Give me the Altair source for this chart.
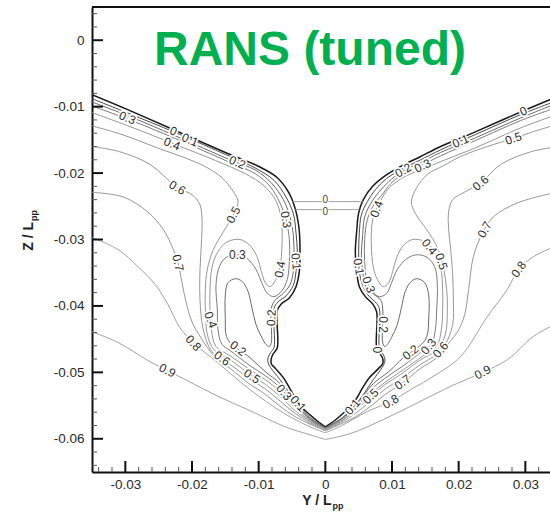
import altair as alt
import pandas as pd

# ---------------- contour lines (Y/Lpp, Z/Lpp) ----------------
u00_left = [(-0.0350,-0.0082),(-0.0293,-0.0106),(-0.0225,-0.0136),(-0.0143,-0.0172),(-0.0102,-0.0189),(-0.0072,-0.0207),(-0.0054,-0.0231),(-0.0044,-0.0258),(-0.0039,-0.0288),(-0.0038,-0.0318),(-0.0039,-0.0348),(-0.0044,-0.0371),(-0.0054,-0.0388),(-0.0066,-0.0397),(-0.0072,-0.0407),(-0.0072,-0.0463),(-0.0078,-0.0472),(-0.0081,-0.0479),(-0.0081,-0.0487),(-0.0075,-0.0494),(-0.0063,-0.0508),(-0.0054,-0.0523),(-0.0045,-0.0539),(-0.0035,-0.0553),(-0.0023,-0.0564),(-0.0011,-0.0574),(0.0,-0.0582)]
u01_left = [(-0.0350,-0.0088),(-0.0293,-0.0111),(-0.0225,-0.0139),(-0.0143,-0.0175),(-0.0104,-0.0193),(-0.0077,-0.0211),(-0.0059,-0.0236),(-0.0048,-0.0261),(-0.0044,-0.0290),(-0.0042,-0.0320),(-0.0044,-0.0348),(-0.0048,-0.0369),(-0.0059,-0.0385),(-0.0071,-0.0394),(-0.0077,-0.0404),(-0.0077,-0.0463),(-0.0082,-0.0470),(-0.0086,-0.0478),(-0.0086,-0.0485),(-0.0082,-0.0493),(-0.0068,-0.0511),(-0.0045,-0.0543),(-0.0023,-0.0568),(0.0,-0.0583)]
u02_left = [(-0.0350,-0.0093),(-0.0293,-0.0115),(-0.0225,-0.0144),(-0.0143,-0.0180),(-0.0104,-0.0196),(-0.0080,-0.0216),(-0.0063,-0.0240),(-0.0053,-0.0266),(-0.0048,-0.0294),(-0.0047,-0.0324),(-0.0048,-0.0348),(-0.0053,-0.0368),(-0.0063,-0.0381),(-0.0075,-0.0391),(-0.0081,-0.0403),(-0.0081,-0.0455),(-0.0084,-0.0461),(-0.0089,-0.0458),(-0.0095,-0.0448),(-0.0104,-0.0428),(-0.0110,-0.0403),(-0.0116,-0.0378),(-0.0125,-0.0363),(-0.0135,-0.0359),(-0.0146,-0.0365),(-0.0150,-0.0383),(-0.0150,-0.0421),(-0.0149,-0.0443),(-0.0143,-0.0455),(-0.0113,-0.0478),(-0.0090,-0.0499),(-0.0068,-0.0517),(-0.0045,-0.0547),(-0.0023,-0.0570),(0.0,-0.0584)]
u03_left = [(-0.0350,-0.0099),(-0.0293,-0.0120),(-0.0225,-0.0148),(-0.0143,-0.0184),(-0.0105,-0.0201),(-0.0083,-0.0220),(-0.0068,-0.0245),(-0.0059,-0.0270),(-0.0054,-0.0300),(-0.0054,-0.0333),(-0.0057,-0.0360),(-0.0065,-0.0377),(-0.0077,-0.0386),(-0.0087,-0.0381),(-0.0095,-0.0366),(-0.0104,-0.0345),(-0.0117,-0.0329),(-0.0132,-0.0323),(-0.0149,-0.0327),(-0.0159,-0.0341),(-0.0164,-0.0368),(-0.0162,-0.0406),(-0.0161,-0.0436),(-0.0155,-0.0458),(-0.0143,-0.0467),(-0.0113,-0.0490),(-0.0090,-0.0505),(-0.0068,-0.0523),(-0.0045,-0.0550),(-0.0023,-0.0571),(0.0,-0.0585)]
u04_left = [(-0.0350,-0.0109),(-0.0293,-0.0130),(-0.0225,-0.0157),(-0.0165,-0.0181),(-0.0120,-0.0201),(-0.0092,-0.0219),(-0.0074,-0.0242),(-0.0066,-0.0270),(-0.0065,-0.0308),(-0.0068,-0.0342),(-0.0074,-0.0360),(-0.0083,-0.0371),(-0.0090,-0.0365),(-0.0096,-0.0348),(-0.0102,-0.0327),(-0.0113,-0.0309),(-0.0128,-0.0300),(-0.0146,-0.0303),(-0.0161,-0.0318),(-0.0170,-0.0342),(-0.0173,-0.0375),(-0.0173,-0.0406),(-0.0171,-0.0436),(-0.0164,-0.0461),(-0.0143,-0.0475),(-0.0113,-0.0496),(-0.0090,-0.0511),(-0.0068,-0.0529),(-0.0045,-0.0554),(-0.0023,-0.0573),(0.0,-0.0585)]
u05_left = [(-0.0350,-0.0129),(-0.0308,-0.0141),(-0.0252,-0.0162),(-0.0203,-0.0180),(-0.0177,-0.0192),(-0.0155,-0.0207),(-0.0140,-0.0225),(-0.0131,-0.0243),(-0.0138,-0.0263),(-0.0152,-0.0287),(-0.0168,-0.0315),(-0.0177,-0.0345),(-0.0180,-0.0375),(-0.0180,-0.0406),(-0.0177,-0.0443),(-0.0167,-0.0466),(-0.0143,-0.0481),(-0.0113,-0.0503),(-0.0090,-0.0518),(-0.0068,-0.0536),(-0.0045,-0.0558),(-0.0023,-0.0574),(0.0,-0.0586)]
u06_left = [(-0.0350,-0.0160),(-0.0308,-0.0168),(-0.0263,-0.0187),(-0.0224,-0.0220),(-0.0198,-0.0234),(-0.0188,-0.0248),(-0.0185,-0.0270),(-0.0186,-0.0308),(-0.0188,-0.0345),(-0.0188,-0.0391),(-0.0183,-0.0436),(-0.0170,-0.0469),(-0.0143,-0.0488),(-0.0113,-0.0510),(-0.0090,-0.0525),(-0.0068,-0.0543),(-0.0045,-0.0562),(-0.0023,-0.0576),(0.0,-0.0587)]
u07_left = [(-0.0350,-0.0229),(-0.0303,-0.0236),(-0.0267,-0.0258),(-0.0243,-0.0285),(-0.0228,-0.0315),(-0.0221,-0.0335),(-0.0215,-0.0365),(-0.0209,-0.0394),(-0.0200,-0.0424),(-0.0186,-0.0449),(-0.0167,-0.0475),(-0.0143,-0.0494),(-0.0113,-0.0518),(-0.0090,-0.0533),(-0.0068,-0.0551),(-0.0045,-0.0567),(-0.0023,-0.0578),(0.0,-0.0588)]
u08_left = [(-0.0350,-0.0297),(-0.0311,-0.0315),(-0.0281,-0.0341),(-0.0255,-0.0368),(-0.0236,-0.0398),(-0.0218,-0.0433),(-0.0195,-0.0458),(-0.0162,-0.0485),(-0.0113,-0.0526),(-0.0063,-0.0561),(-0.0023,-0.0582),(0.0,-0.0591)]
u09_left = [(-0.0350,-0.0439),(-0.0311,-0.0455),(-0.0263,-0.0484),(-0.0210,-0.0511),(-0.0161,-0.0536),(-0.0110,-0.0559),(-0.0060,-0.0582),(-0.0023,-0.0594),(0.0,-0.0601)]

u00_right = [(0.0350,-0.0084),(0.0293,-0.0108),(0.0225,-0.0138),(0.0173,-0.0160),(0.0143,-0.0175),(0.0113,-0.0190),(0.0090,-0.0204),(0.0071,-0.0220),(0.0057,-0.0240),(0.0050,-0.0260),(0.0047,-0.0288),(0.0045,-0.0318),(0.0047,-0.0348),(0.0051,-0.0371),(0.0060,-0.0386),(0.0071,-0.0397),(0.0077,-0.0409),(0.0077,-0.0463),(0.0082,-0.0472),(0.0086,-0.0479),(0.0086,-0.0487),(0.0080,-0.0494),(0.0066,-0.0508),(0.0056,-0.0523),(0.0047,-0.0539),(0.0036,-0.0553),(0.0024,-0.0564),(0.0012,-0.0574),(0.0,-0.0582)]
u01_right = [(0.0350,-0.0090),(0.0293,-0.0112),(0.0225,-0.0142),(0.0173,-0.0165),(0.0143,-0.0180),(0.0113,-0.0195),(0.0092,-0.0208),(0.0075,-0.0225),(0.0063,-0.0243),(0.0054,-0.0263),(0.0051,-0.0290),(0.0050,-0.0320),(0.0051,-0.0348),(0.0056,-0.0369),(0.0065,-0.0385),(0.0075,-0.0394),(0.0081,-0.0404),(0.0081,-0.0463),(0.0085,-0.0470),(0.0089,-0.0478),(0.0089,-0.0485),(0.0085,-0.0493),(0.0072,-0.0511),(0.0050,-0.0543),(0.0026,-0.0568),(0.0,-0.0583)]
u02_right = [(0.0350,-0.0094),(0.0293,-0.0117),(0.0225,-0.0147),(0.0173,-0.0169),(0.0143,-0.0184),(0.0113,-0.0199),(0.0095,-0.0213),(0.0080,-0.0229),(0.0068,-0.0246),(0.0059,-0.0266),(0.0056,-0.0294),(0.0054,-0.0324),(0.0056,-0.0348),(0.0060,-0.0368),(0.0071,-0.0381),(0.0083,-0.0391),(0.0086,-0.0403),(0.0086,-0.0455),(0.0089,-0.0461),(0.0093,-0.0458),(0.0099,-0.0448),(0.0108,-0.0428),(0.0114,-0.0403),(0.0120,-0.0378),(0.0129,-0.0363),(0.0138,-0.0359),(0.0149,-0.0365),(0.0155,-0.0383),(0.0155,-0.0421),(0.0153,-0.0443),(0.0147,-0.0455),(0.0117,-0.0478),(0.0095,-0.0499),(0.0072,-0.0517),(0.0048,-0.0547),(0.0024,-0.0570),(0.0,-0.0584)]
u03_right = [(0.0350,-0.0100),(0.0293,-0.0121),(0.0225,-0.0151),(0.0173,-0.0174),(0.0143,-0.0189),(0.0113,-0.0204),(0.0098,-0.0216),(0.0084,-0.0234),(0.0072,-0.0249),(0.0063,-0.0270),(0.0059,-0.0300),(0.0059,-0.0333),(0.0062,-0.0360),(0.0069,-0.0377),(0.0081,-0.0386),(0.0092,-0.0381),(0.0099,-0.0366),(0.0108,-0.0345),(0.0122,-0.0329),(0.0137,-0.0323),(0.0153,-0.0327),(0.0164,-0.0341),(0.0168,-0.0368),(0.0167,-0.0406),(0.0165,-0.0436),(0.0159,-0.0458),(0.0147,-0.0467),(0.0117,-0.0490),(0.0095,-0.0505),(0.0072,-0.0523),(0.0048,-0.0550),(0.0024,-0.0571),(0.0,-0.0585)]
u04_right = [(0.0350,-0.0111),(0.0293,-0.0132),(0.0225,-0.0162),(0.0165,-0.0186),(0.0120,-0.0205),(0.0096,-0.0222),(0.0081,-0.0245),(0.0071,-0.0270),(0.0069,-0.0308),(0.0072,-0.0342),(0.0078,-0.0360),(0.0087,-0.0371),(0.0095,-0.0365),(0.0101,-0.0348),(0.0107,-0.0327),(0.0117,-0.0309),(0.0131,-0.0300),(0.0149,-0.0303),(0.0164,-0.0318),(0.0173,-0.0342),(0.0176,-0.0375),(0.0176,-0.0406),(0.0174,-0.0436),(0.0167,-0.0461),(0.0147,-0.0475),(0.0117,-0.0496),(0.0095,-0.0511),(0.0072,-0.0529),(0.0048,-0.0554),(0.0024,-0.0573),(0.0,-0.0585)]
u05_right = [(0.0350,-0.0126),(0.0308,-0.0139),(0.0282,-0.0148),(0.0243,-0.0160),(0.0203,-0.0175),(0.0177,-0.0189),(0.0153,-0.0202),(0.0137,-0.0222),(0.0129,-0.0243),(0.0135,-0.0261),(0.0152,-0.0285),(0.0168,-0.0312),(0.0177,-0.0342),(0.0182,-0.0375),(0.0183,-0.0406),(0.0180,-0.0443),(0.0168,-0.0466),(0.0143,-0.0481),(0.0113,-0.0503),(0.0090,-0.0518),(0.0068,-0.0536),(0.0045,-0.0558),(0.0023,-0.0574),(0.0,-0.0586)]
u06_right = [(0.0350,-0.0160),(0.0308,-0.0168),(0.0263,-0.0187),(0.0233,-0.0215),(0.0210,-0.0228),(0.0191,-0.0240),(0.0185,-0.0258),(0.0185,-0.0285),(0.0188,-0.0315),(0.0191,-0.0353),(0.0192,-0.0391),(0.0191,-0.0428),(0.0180,-0.0458),(0.0167,-0.0473),(0.0143,-0.0488),(0.0113,-0.0510),(0.0090,-0.0525),(0.0068,-0.0543),(0.0045,-0.0562),(0.0023,-0.0576),(0.0,-0.0587)]
u07_right = [(0.0350,-0.0228),(0.0288,-0.0245),(0.0252,-0.0266),(0.0236,-0.0290),(0.0222,-0.0326),(0.0215,-0.0375),(0.0209,-0.0413),(0.0200,-0.0436),(0.0186,-0.0455),(0.0167,-0.0478),(0.0143,-0.0494),(0.0113,-0.0518),(0.0090,-0.0533),(0.0068,-0.0551),(0.0045,-0.0567),(0.0023,-0.0578),(0.0,-0.0588)]
u08_right = [(0.0350,-0.0308),(0.0312,-0.0326),(0.0290,-0.0345),(0.0273,-0.0375),(0.0243,-0.0416),(0.0203,-0.0476),(0.0162,-0.0506),(0.0128,-0.0526),(0.0098,-0.0544),(0.0063,-0.0559),(0.0023,-0.0581),(0.0,-0.0591)]
u09_right = [(0.0350,-0.0425),(0.0312,-0.0446),(0.0273,-0.0481),(0.0236,-0.0500),(0.0188,-0.0521),(0.0138,-0.0546),(0.0087,-0.0571),(0.0038,-0.0592),(0.0,-0.0601)]

deck_upper = [(-0.0049,-0.0243),(0.0056,-0.0243)]
deck_lower = [(-0.0045,-0.0255),(0.0051,-0.0255)]

# ---------------- contour labels ----------------
label_text = ["0.3","0","0.1","0.4","0.2","0.6","0.5","0.7","0.3","0.3","0.4","0.1","0.2","0.4","0.2","0.6","0.5","0.8","0.9","0.3","0.1",
              "0","0.5","0.1","0.3","0.2","0.6","0.4","0.7","0.8","0.1","0.3","0.2","0","0.4","0.5","0.3","0.6","0.2","0.7","0.8","0.9","0.5","0.1"]
label_y = [-0.0297,-0.0228,-0.0203,-0.0230,-0.0132,-0.0222,-0.0138,-0.0221,-0.0132,-0.0059,-0.0068,-0.0044,-0.0081,-0.0172,-0.0131,-0.0155,-0.0110,-0.0198,-0.0237,-0.0062,-0.0041,
           0.0297,0.0282,0.0203,0.0146,0.0117,0.0233,0.0077,0.0239,0.0290,0.0050,0.0065,0.0086,0.0077,0.0156,0.0174,0.0155,0.0173,0.0128,0.0116,0.0098,0.0236,0.0068,0.0041]
label_z = [-0.0117,-0.0137,-0.0150,-0.0156,-0.0184,-0.0222,-0.0263,-0.0335,-0.0323,-0.0270,-0.0345,-0.0333,-0.0418,-0.0421,-0.0464,-0.0479,-0.0506,-0.0456,-0.0497,-0.0530,-0.0547,
           -0.0107,-0.0148,-0.0152,-0.0189,-0.0196,-0.0215,-0.0254,-0.0285,-0.0345,-0.0341,-0.0368,-0.0428,-0.0466,-0.0311,-0.0333,-0.0461,-0.0466,-0.0470,-0.0515,-0.0544,-0.0500,-0.0536,-0.0552]
label_angle = [22,23,23,22,24,30,298,78,0,80,280,85,272,70,37,36,34,48,27,50,48,
               336,342,337,335,330,320,290,298,305,80,70,90,90,50,72,310,310,320,322,330,332,315,310]

deck_label_text = ["0", "0"]
deck_label_y = [0.0, 0.0]
deck_label_z = [-0.0240, -0.0258]

# ---------------- axes ----------------
x_major = [-0.03, -0.02, -0.01, 0.0, 0.01, 0.02, 0.03]
z_major = [0.0, -0.01, -0.02, -0.03, -0.04, -0.05, -0.06]
x_minor = [-0.034,-0.032,-0.028,-0.026,-0.024,-0.022,-0.018,-0.016,-0.014,-0.012,-0.008,-0.006,-0.004,-0.002,
           0.002,0.004,0.006,0.008,0.012,0.014,0.016,0.018,0.022,0.024,0.026,0.028,0.032]
z_minor = [0.004,0.002,-0.002,-0.004,-0.006,-0.008,-0.012,-0.014,-0.016,-0.018,-0.022,-0.024,-0.026,-0.028,
           -0.032,-0.034,-0.036,-0.038,-0.042,-0.044,-0.046,-0.048,-0.052,-0.054,-0.056,-0.058,-0.062,-0.064]

W, H = 458, 465
FONT = "Liberation Sans"

line_groups = [
    ("k",  "#1a1a1a", 1.5, [("u00L", u00_left), ("u00R", u00_right)]),
    ("d1", "#4a4a4a", 1.0, [("u01L", u01_left), ("u01R", u01_right)]),
    ("d2", "#6a6a6a", 1.0, [("u02L", u02_left), ("u02R", u02_right)]),
    ("d3", "#7c7c7c", 1.0, [("u03L", u03_left), ("u03R", u03_right)]),
    ("g",  "#979797", 1.0, [("u04L", u04_left), ("u04R", u04_right), ("u05L", u05_left), ("u05R", u05_right),
                           ("u06L", u06_left), ("u06R", u06_right), ("u07L", u07_left), ("u07R", u07_right)]),
    ("g2", "#a2a2a2", 1.0, [("u08L", u08_left), ("u08R", u08_right), ("u09L", u09_left), ("u09R", u09_right),
                           ("dkU", deck_upper), ("dkL", deck_lower)]),
]

LABEL_EXPR = "datum.value == 0 ? '0' : (datum.value < 0 ? '-' : '') + format(abs(datum.value), '.2f')"
X_ENC = alt.X("Y:Q", scale=alt.Scale(domain=[-0.035, 0.0337], nice=False, zero=False),
              axis=alt.Axis(values=x_major, ticks=False, grid=False, title=None, domainWidth=2, domainColor="#111111",
                            labelFont=FONT, labelFontSize=13.5, labelColor="#2a2a2a", labelPadding=5,
                            labelExpr=LABEL_EXPR))
Y_ENC = alt.Y("Z:Q", scale=alt.Scale(domain=[-0.065, 0.005], nice=False, zero=False),
              axis=alt.Axis(values=z_major, ticks=False, grid=False, title=None, domainWidth=2, domainColor="#111111",
                            labelFont=FONT, labelFontSize=13.5, labelColor="#2a2a2a", labelPadding=8,
                            labelExpr=LABEL_EXPR))

layers = []
for grp, col, sw, members in line_groups:
    rows = []
    for name, pts in members:
        for i, (yv, zv) in enumerate(pts):
            rows.append({"line": name, "i": i, "Y": yv, "Z": zv})
    df = pd.DataFrame(rows)
    layers.append(alt.Chart(df).mark_line(color=col, strokeWidth=sw, clip=True, interpolate="catmull-rom").encode(
        x=X_ENC, y=Y_ENC, detail="line:N", order="i:Q"))

lab = pd.DataFrame({"t": label_text, "Y": label_y, "Z": label_z, "a": label_angle})
layers.append(alt.Chart(lab).mark_text(font=FONT, fontSize=12, fill="white", stroke="white", strokeWidth=3.5,
                                       strokeJoin="round", baseline="middle", align="center").encode(
    x=X_ENC, y=Y_ENC, text="t:N", angle=alt.Angle("a:Q", scale=None)))
layers.append(alt.Chart(lab).mark_text(font=FONT, fontSize=12, color="#2e2e2e", baseline="middle", align="center").encode(
    x=X_ENC, y=Y_ENC, text="t:N", angle=alt.Angle("a:Q", scale=None)))

dl = pd.DataFrame({"Y": deck_label_y, "Z": deck_label_z, "t": deck_label_text})
layers.append(alt.Chart(dl).mark_point(shape="square", size=40, filled=True, color="white", opacity=1).encode(
    x=X_ENC, y=Y_ENC))
layers.append(alt.Chart(dl).mark_text(font=FONT, fontSize=10, color="#444444", baseline="middle", align="center").encode(
    x=X_ENC, y=Y_ENC, text="t:N"))

# inward ticks
zt_major = pd.DataFrame({"Z": z_major})
zt_minor = pd.DataFrame({"Z": z_minor})
xt_major = pd.DataFrame({"Y": x_major})
xt_minor = pd.DataFrame({"Y": x_minor})
layers.append(alt.Chart(zt_major).mark_rule(color="#111111", strokeWidth=2).encode(y=Y_ENC, x=alt.value(0), x2=alt.value(11)))
layers.append(alt.Chart(zt_minor).mark_rule(color="#555555", strokeWidth=1).encode(y=Y_ENC, x=alt.value(0), x2=alt.value(5)))
layers.append(alt.Chart(xt_major).mark_rule(color="#111111", strokeWidth=2).encode(x=X_ENC, y=alt.value(H), y2=alt.value(H - 11)))
layers.append(alt.Chart(xt_minor).mark_rule(color="#555555", strokeWidth=1).encode(x=X_ENC, y=alt.value(H), y2=alt.value(H - 5)))

one = pd.DataFrame({"a": [0]})
# top frame
layers.append(alt.Chart(one).mark_rule(color="#111111", strokeWidth=2).encode(x=alt.value(0), x2=alt.value(W + 2), y=alt.value(0)))

# title
layers.append(alt.Chart(one).mark_text(text="RANS (tuned)", font=FONT, fontSize=48, fontWeight="bold", color="#00B050",
                                       align="center", baseline="alphabetic").encode(x=alt.value(218), y=alt.value(58)))
# axis titles with subscripts
layers.append(alt.Chart(one).mark_text(text="Y / L", font=FONT, fontSize=14, fontWeight="bold", color="#222222",
                                       align="right", baseline="alphabetic").encode(x=alt.value(239.5), y=alt.value(497.5)))
layers.append(alt.Chart(one).mark_text(text="pp", font=FONT, fontSize=9, fontWeight="bold", color="#222222",
                                       align="left", baseline="alphabetic").encode(x=alt.value(240.5), y=alt.value(501.5)))
layers.append(alt.Chart(one).mark_text(text="Z / L", font=FONT, fontSize=14, fontWeight="bold", color="#222222",
                                       align="right", baseline="alphabetic", angle=270).encode(x=alt.value(-59), y=alt.value(215)))
layers.append(alt.Chart(one).mark_text(text="pp", font=FONT, fontSize=9, fontWeight="bold", color="#222222",
                                       align="left", baseline="alphabetic", angle=270).encode(x=alt.value(-55), y=alt.value(214)))

chart = alt.layer(*layers).properties(
    width=W, height=H,
    padding={"left": 92, "top": 7, "right": 0, "bottom": 44},
    autosize=alt.AutoSizeParams(type="none"),
    background="white",
).configure_view(stroke=None)

chart.save("out.html", embed_options={"renderer": "svg", "actions": False})
